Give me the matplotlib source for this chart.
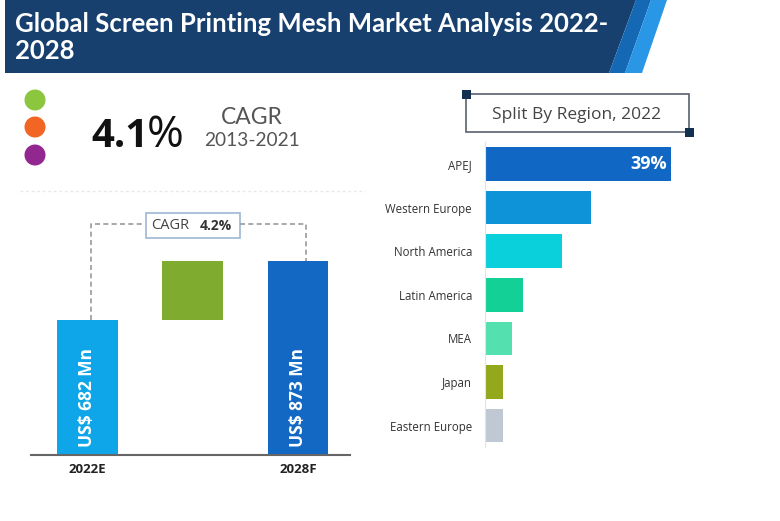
import matplotlib
matplotlib.use("Agg")
import matplotlib.pyplot as plt
from matplotlib.patches import Polygon, Rectangle, Circle

W, H = 780, 521

title_lines = ["Global Screen Printing Mesh Market Analysis 2022-", "2028"]
market_labels = ["2022E", "", "2028F"]
market_base = [682, 873]
market_delta = 191
market_text = ["US$ 682 Mn", "US$ 873 Mn"]
regions = ["APEJ", "Western Europe", "North America", "Latin America", "MEA", "Japan", "Eastern Europe"]
shares = [39, 22.3, 16.2, 8, 5.8, 3.8, 3.8]
region_colors = ["#1167c4", "#0e92d8", "#0ad0dc", "#13d096", "#55e0b0", "#93a81c", "#c0c8d4"]

fig = plt.figure(figsize=(W / 100, H / 100), dpi=100, facecolor="white")

def axes_px(x0, y0, x1, y1, **kw):
    return fig.add_axes([x0 / W, 1 - y1 / H, (x1 - x0) / W, (y1 - y0) / H], **kw)

# overlay in pixel coordinates for the decoration
ov = axes_px(0, 0, W, H)
ov.set_xlim(0, W); ov.set_ylim(H, 0); ov.axis("off")

ov.add_patch(Polygon([(5, 0), (636, 0), (609, 73), (5, 73)], fc="#17406f", ec="none"))
ov.add_patch(Polygon([(636, 0), (651, 0), (625, 73), (609, 73)], fc="#1468b4", ec="none"))
ov.add_patch(Polygon([(651, 0), (667, 0), (642, 73), (625, 73)], fc="#2a96e6", ec="none"))
ov.text(15, 24, title_lines[0], color="white", fontsize=18.55, family="Lato", weight="bold", va="center")
ov.text(15, 51, title_lines[1], color="white", fontsize=18.55, family="Lato", weight="bold", va="center")

for cy, c in zip([100, 127, 155], ["#8cc63f", "#f26522", "#92278f"]):
    ov.add_patch(Circle((35, cy), 10.5, fc=c, ec="none"))

ov.text(91, 147, "4.1", fontsize=29, family="Open Sans", weight="bold", color="#111111", va="baseline")
ov.text(147, 147, "%", fontsize=32, family="Open Sans", color="#111111", va="baseline")
ov.text(252, 118, "CAGR", fontsize=16.5, family="Lato", color="#555555", ha="center", va="center")
ov.text(252, 141, "2013-2021", fontsize=13.8, family="Lato", color="#555555", ha="center", va="center")

ov.plot([20, 365], [191, 191], color="#e8e8e8", lw=1, ls=(0, (2, 2)))

# CAGR connector
ov.plot([90.5, 90.5, 145], [320, 224, 224], color="#9a9a9a", lw=1.2, ls=(0, (3, 2)))
ov.plot([240, 306, 306], [224, 224, 261], color="#9a9a9a", lw=1.2, ls=(0, (3, 2)))
ov.add_patch(Rectangle((145.5, 212.5), 94, 25, fc="white", ec="#9db8d6", lw=1.2))
ov.text(151, 225.5, "CAGR", fontsize=10.5, family="Open Sans", color="#444444", va="center")
ov.text(200, 225.5, "4.2%", fontsize=10, family="Open Sans", weight="bold", color="#333333", va="center")

# region title box
ov.add_patch(Rectangle((466, 94), 223, 38, fc="white", ec="#5a6270", lw=1.2))
ov.add_patch(Rectangle((461.5, 89.5), 9, 9, fc="#12304f", ec="none"))
ov.add_patch(Rectangle((684.5, 127.5), 9, 9, fc="#12304f", ec="none"))
ov.text(577, 115, "Split By Region, 2022", fontsize=12.5, family="Open Sans", color="#444444", ha="center", va="center")

# market bars
a1 = axes_px(31, 190, 350, 455)
a1.patch.set_alpha(0)
a1.bar(0, market_base[0], width=0.578, color="#0fa6e9")
a1.bar(2, market_base[1], width=0.578, color="#1268c3")
a1.bar(1, market_delta, bottom=market_base[0], width=0.578, color="#7fac2e")
a1.set_xlim(-0.531, 2.493)
a1.set_ylim(245, 1103)
a1.set_xticks([0, 2], [market_labels[0], market_labels[2]], fontsize=9.5, family="Open Sans", weight="bold", color="#222222")
a1.set_yticks([])
a1.tick_params(axis="x", length=0, pad=6)
for s in ["top", "left", "right"]:
    a1.spines[s].set_visible(False)
a1.spines["bottom"].set_color("#666666")
a1.spines["bottom"].set_linewidth(1.5)
for xp, txt in zip([0, 2], market_text):
    a1.annotate(txt, (xp, 245), xytext=(0, 6), textcoords="offset points", rotation=90,
                ha="center", va="bottom", color="white", fontsize=12.5, family="Open Sans", weight="bold")

# region bars
a2 = axes_px(484.5, 142.2, 700, 447.3)
a2.patch.set_alpha(0)
a2.barh(range(len(regions)), shares, height=0.77, color=region_colors)
a2.set_xlim(0, 45.07)
a2.set_ylim(6.5, -0.5)
a2.set_yticks(range(len(regions)), regions, fontsize=8.3, family="Open Sans", color="#333333")
a2.set_xticks([])
a2.tick_params(axis="y", length=0, pad=9)
for s in ["top", "bottom", "right"]:
    a2.spines[s].set_visible(False)
a2.spines["left"].set_color("#e4e4e4")
a2.text(shares[0] - 0.9, 0, f"{shares[0]}%", color="white", fontsize=13, family="Open Sans", weight="bold",
        ha="right", va="center")

fig.savefig("out.png", dpi=100, facecolor="white")
